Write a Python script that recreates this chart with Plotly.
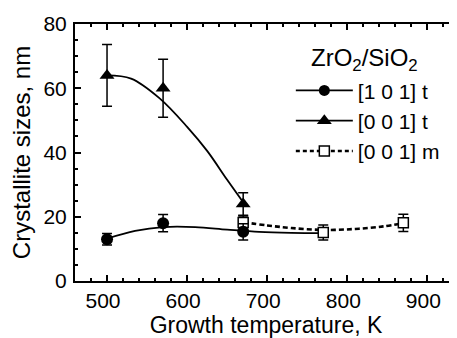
import plotly.graph_objects as go

# ---- data ----
temp_t = [500, 570, 670]
size_101t = [13.0, 18.0, 15.3]
err_101t = [1.8, 2.7, 2.5]
size_001t = [64.0, 60.0, 24.0]
err_001t = [9.6, 9.0, 3.5]

temp_m = [670, 770, 870]
size_001m = [18.2, 15.1, 18.1]
err_001m = [2.0, 2.3, 2.7]

# fitted guide curves
fit_101t_x = [500, 535, 570, 610, 650, 690, 730, 770]
fit_101t_y = [13.2, 15.6, 16.8, 16.8, 16.0, 15.3, 15.0, 14.9]
fit_001t_x = [500, 530, 565, 600, 625, 650, 670]
fit_001t_y = [64.0, 63.0, 57.0, 48.0, 40.5, 31.5, 24.5]
fit_001m_x = [670, 700, 730, 770, 810, 845, 870]
fit_001m_y = [18.3, 17.3, 16.5, 15.9, 16.2, 17.0, 18.0]

names = ["[1 0 1] t", "[0 0 1] t", "[0 0 1] m"]
x_ticks = [500, 600, 700, 800, 900]
y_ticks = [0, 20, 40, 60, 80]

FONT = "Arial, 'Liberation Sans', sans-serif"
fig = go.Figure()

# curves
fig.add_trace(go.Scatter(x=fit_101t_x, y=fit_101t_y, mode="lines",
                         line=dict(color="black", width=1.8, shape="spline"),
                         showlegend=False, hoverinfo="skip"))
fig.add_trace(go.Scatter(x=fit_001t_x, y=fit_001t_y, mode="lines",
                         line=dict(color="black", width=1.8, shape="spline"),
                         showlegend=False, hoverinfo="skip"))
fig.add_trace(go.Scatter(x=fit_001m_x, y=fit_001m_y, mode="lines",
                         line=dict(color="black", width=2.6, shape="spline", dash="5px,3px"),
                         showlegend=False, hoverinfo="skip"))

eb = dict(type="data", color="black", thickness=1.5, width=5)
# markers
fig.add_trace(go.Scatter(x=temp_m, y=size_001m, mode="markers",
                         marker=dict(symbol="square", size=10, color="white",
                                     line=dict(color="black", width=1.5)),
                         error_y=dict(array=err_001m, **eb), showlegend=False))
fig.add_trace(go.Scatter(x=temp_t, y=size_101t, mode="markers",
                         marker=dict(symbol="circle", size=12, color="black"),
                         error_y=dict(array=err_101t, **eb), showlegend=False))
fig.add_trace(go.Scatter(x=temp_t, y=size_001t, mode="markers",
                         marker=dict(symbol="triangle-up", size=13, color="black"),
                         error_y=dict(array=err_001t, **eb), showlegend=False))

# legend entries
fig.add_trace(go.Scatter(x=[None], y=[None], mode="lines+markers", name=names[0],
                         line=dict(color="black", width=1.8),
                         marker=dict(symbol="circle", size=11, color="black"),
                         legendgroup="a"))
fig.add_trace(go.Scatter(x=[None], y=[None], mode="lines+markers", name=names[1],
                         line=dict(color="black", width=1.8),
                         marker=dict(symbol="triangle-up", size=13, color="black"),
                         legendgroup="a"))
fig.add_trace(go.Scatter(x=[None], y=[None], mode="lines+markers", name=names[2],
                         line=dict(color="black", width=2.6, dash="4px,3px"),
                         marker=dict(symbol="square", size=10, color="white",
                                     line=dict(color="black", width=1.5)),
                         legendgroup="b"))

axis_common = dict(showline=True, linecolor="black", linewidth=2,
                   ticks="inside", tickcolor="black", tickwidth=1.5, ticklen=6,
                   showgrid=False, zeroline=False,
                   tickfont=dict(family=FONT, size=21, color="black"))

# the page body adds an 8px offset; the figure is sized to fill the rest
fig.update_layout(
    width=449, height=330,
    margin=dict(l=67, r=0, t=16, b=57),
    paper_bgcolor="white", plot_bgcolor="white",
    font=dict(family=FONT, color="black"),
    xaxis=dict(range=[460, 937], tickvals=x_ticks, mirror="ticks",
               minor=dict(dtick=20, tick0=0, ticks="inside", ticklen=3,
                          tickwidth=1.5, tickcolor="black", showgrid=False),
               title=dict(text="Growth temperature, K",
                          font=dict(family=FONT, size=23, color="black"), standoff=6),
               ticklabelshift=-4,
               **axis_common),
    yaxis=dict(range=[0, 80], tickvals=y_ticks, mirror=False,
               minor=dict(dtick=5, tick0=0, ticks="inside", ticklen=3,
                          tickwidth=1.5, tickcolor="black", showgrid=False),
               title=dict(text="Crystallite sizes, nm",
                          font=dict(family=FONT, size=24, color="black"), standoff=8),
               ticklabelstandoff=2,
               **axis_common),
    legend=dict(x=0.565, y=0.82, xanchor="left", yanchor="top",
                bgcolor="rgba(0,0,0,0)", itemwidth=57, traceorder="grouped",
                tracegroupgap=0,
                font=dict(family=FONT, size=21, color="black")),
    annotations=[dict(text="ZrO<sub>2</sub>/SiO<sub>2</sub>", xref="paper", yref="paper",
                      x=0.757, y=0.86, xanchor="center", yanchor="middle",
                      showarrow=False, font=dict(family=FONT, size=24, color="black"))],
)

fig.write_html("out.html")
